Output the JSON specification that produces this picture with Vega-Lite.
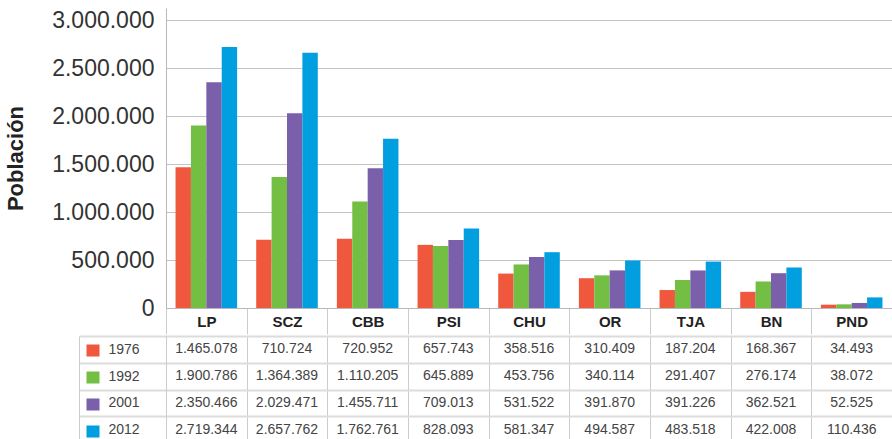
{
  "$schema": "https://vega.github.io/schema/vega-lite/v6.json",
  "padding": {"left": 4, "top": 8, "right": 0, "bottom": 0},
  "background": "white",
  "spacing": -6,
  "data": {"values": [
    {"region": "LP", "year": "1976", "value": 1465078},
    {"region": "LP", "year": "1992", "value": 1900786},
    {"region": "LP", "year": "2001", "value": 2350466},
    {"region": "LP", "year": "2012", "value": 2719344},
    {"region": "SCZ", "year": "1976", "value": 710724},
    {"region": "SCZ", "year": "1992", "value": 1364389},
    {"region": "SCZ", "year": "2001", "value": 2029471},
    {"region": "SCZ", "year": "2012", "value": 2657762},
    {"region": "CBB", "year": "1976", "value": 720952},
    {"region": "CBB", "year": "1992", "value": 1110205},
    {"region": "CBB", "year": "2001", "value": 1455711},
    {"region": "CBB", "year": "2012", "value": 1762761},
    {"region": "PSI", "year": "1976", "value": 657743},
    {"region": "PSI", "year": "1992", "value": 645889},
    {"region": "PSI", "year": "2001", "value": 709013},
    {"region": "PSI", "year": "2012", "value": 828093},
    {"region": "CHU", "year": "1976", "value": 358516},
    {"region": "CHU", "year": "1992", "value": 453756},
    {"region": "CHU", "year": "2001", "value": 531522},
    {"region": "CHU", "year": "2012", "value": 581347},
    {"region": "OR", "year": "1976", "value": 310409},
    {"region": "OR", "year": "1992", "value": 340114},
    {"region": "OR", "year": "2001", "value": 391870},
    {"region": "OR", "year": "2012", "value": 494587},
    {"region": "TJA", "year": "1976", "value": 187204},
    {"region": "TJA", "year": "1992", "value": 291407},
    {"region": "TJA", "year": "2001", "value": 391226},
    {"region": "TJA", "year": "2012", "value": 483518},
    {"region": "BN", "year": "1976", "value": 168367},
    {"region": "BN", "year": "1992", "value": 276174},
    {"region": "BN", "year": "2001", "value": 362521},
    {"region": "BN", "year": "2012", "value": 422008},
    {"region": "PND", "year": "1976", "value": 34493},
    {"region": "PND", "year": "1992", "value": 38072},
    {"region": "PND", "year": "2001", "value": 52525},
    {"region": "PND", "year": "2012", "value": 110436}
  ]},
  "vconcat": [
    {
      "width": 726,
      "height": 300,
      "mark": {"type": "bar"},
      "encoding": {
        "x": {
          "field": "region", "type": "nominal",
          "sort": ["LP", "SCZ", "CBB", "PSI", "CHU", "OR", "TJA", "BN", "PND"],
          "scale": {"paddingInner": 0, "paddingOuter": 0},
          "axis": {
            "title": null, "orient": "bottom", "labelAngle": 0,
            "labelFont": "Liberation Sans", "labelFontWeight": "bold", "labelFontSize": 15, "labelColor": "#222222",
            "tickBand": "extent", "tickSize": 26, "tickColor": "#cccccc", "tickWidth": 1,
            "labelPadding": -13, "labelBaseline": "middle",
            "minExtent": 0, "maxExtent": 26,
            "domainColor": "#b8b8b8", "domainWidth": 1, "grid": false
          }
        },
        "xOffset": {
          "field": "year", "type": "nominal",
          "sort": ["1976", "1992", "2001", "2012"],
          "scale": {"paddingOuter": 0.62, "paddingInner": 0}
        },
        "y": {
          "field": "value", "type": "quantitative",
          "scale": {"domain": [0, 3125000], "nice": false},
          "axis": {
            "title": "Población",
            "values": [0, 500000, 1000000, 1500000, 2000000, 2500000, 3000000],
            "format": ",d",
            "labelFont": "Liberation Sans", "labelFontSize": 23, "labelColor": "#333333",
            "ticks": false, "labelPadding": 12,
            "grid": true, "gridColor": "#c4c4c4", "gridWidth": 1,
            "domainColor": "#b8b8b8",
            "titleFont": "Liberation Sans", "titleFontSize": 22, "titleFontWeight": "bold", "titleColor": "#222222",
            "titlePadding": 24
          }
        },
        "color": {
          "field": "year", "type": "nominal",
          "scale": {"domain": ["1976", "1992", "2001", "2012"], "range": ["#f0583e", "#73bf44", "#7a60aa", "#019fe0"]},
          "legend": null
        }
      }
    },
    {
      "width": 726,
      "height": 107,
      "layer": [
        {
          "mark": {"type": "text", "font": "Liberation Sans", "fontSize": 14, "color": "#444444"},
          "encoding": {
            "x": {
              "field": "region", "type": "nominal",
              "sort": ["LP", "SCZ", "CBB", "PSI", "CHU", "OR", "TJA", "BN", "PND"],
              "scale": {"paddingInner": 0, "paddingOuter": 0},
              "axis": {"title": null, "orient": "bottom", "grid": true, "tickBand": "extent", "gridColor": "#cccccc", "gridWidth": 1, "labels": false, "ticks": false, "domain": false}
            },
            "y": {
              "field": "year", "type": "ordinal",
              "sort": ["1976", "1992", "2001", "2012"],
              "scale": {"paddingInner": 0, "paddingOuter": 0},
              "axis": {
                "orient": "left", "title": null, "offset": 0,
                "tickBand": "extent", "tickSize": 87, "tickColor": "#dcdcdc", "tickWidth": 2,
                "grid": true, "gridColor": "#dcdcdc", "gridWidth": 2,
                "labelPadding": -29, "labelAlign": "left", "labelFont": "Liberation Sans", "labelFontSize": 14, "labelColor": "#444444",
                "domainColor": "#cccccc"
              }
            },
            "text": {"field": "value", "type": "quantitative", "format": ",d"}
          }
        },
        {
          "mark": {"type": "point", "opacity": 0},
          "encoding": {
            "y": {
              "field": "year", "type": "ordinal",
              "sort": ["1976", "1992", "2001", "2012"],
              "axis": {
                "orient": "left", "title": null, "offset": 0,
                "labels": false, "domain": false, "grid": false,
                "tickSize": 80, "tickWidth": 12, "tickDash": [0, 67, 13, 100], "tickOffset": 1,
                "tickColor": {
                  "condition": [
                    {"test": "datum.value === '1976'", "value": "#f0583e"},
                    {"test": "datum.value === '1992'", "value": "#73bf44"},
                    {"test": "datum.value === '2001'", "value": "#7a60aa"}
                  ],
                  "value": "#019fe0"
                }
              }
            }
          }
        },
        {
          "mark": {"type": "point", "opacity": 0},
          "encoding": {
            "y": {
              "field": "year", "type": "ordinal",
              "sort": ["1976", "1992", "2001", "2012"],
              "axis": {"orient": "left", "title": null, "offset": 87, "labels": false, "ticks": false, "grid": false, "domain": true, "domainColor": "#cccccc"}
            }
          }
        }
      ],
      "resolve": {"axis": {"y": "independent"}}
    }
  ],
  "config": {
    "view": {"stroke": null},
    "font": "Liberation Sans",
    "locale": {"number": {"decimal": ",", "thousands": ".", "grouping": [3], "currency": ["", ""]}}
  }
}
